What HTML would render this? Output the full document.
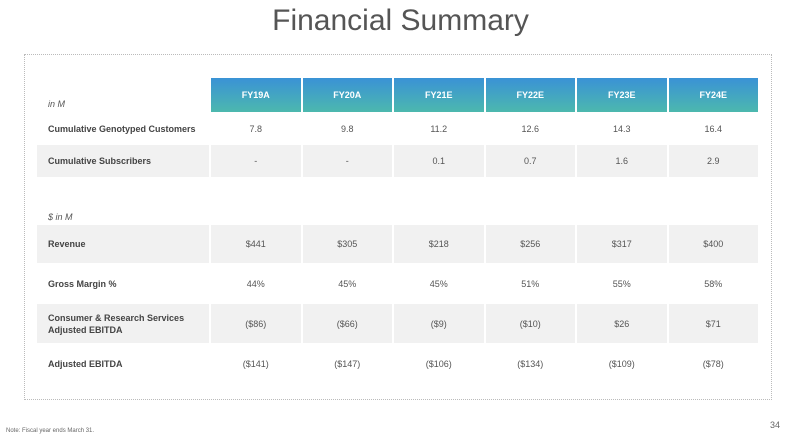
<!DOCTYPE html>
<html><head><meta charset="utf-8"><style>
body{margin:0;width:801px;height:438px;overflow:hidden;background:#fff;font-family:"Liberation Sans",Arial,sans-serif;position:relative;color:#444}
div{position:absolute;box-sizing:border-box}
.t{font-size:30px;color:#555;left:0;width:801px;text-align:center;top:4px}
.hd{top:78px;height:34px;background:linear-gradient(#3a92d6,#4cb8ae);color:#fff;font-size:9px;font-weight:bold;text-align:center;line-height:34px}
.bg{background:#f1f1f1}
.c{font-size:9px;text-align:center;color:#555;display:flex;align-items:center;justify-content:center}
.l{font-size:9px;font-weight:bold;color:#444;display:flex;align-items:center;padding-left:11px;line-height:12px}
.it{font-size:9px;font-style:italic;color:#555}
.dot{border:1.5px dotted #bbb}
</style></head><body>
<div class="t">Financial Summary</div>
<div class="dot" style="left:24px;top:54px;width:748px;height:346px"></div>
<div class="it" style="left:48px;top:99px">in M</div>
<div class="it" style="left:48px;top:212px">$ in M</div>
<div id="tbl"></div>
<div style="left:6px;top:428px;font-size:6px;color:#666">Note: Fiscal year ends March 31.</div>
<div style="left:770px;top:420px;font-size:9px;color:#666">34</div>
<script>
const years=["FY19A","FY20A","FY21E","FY22E","FY23E","FY24E"];
const labels=["Cumulative Genotyped Customers","Cumulative Subscribers","Revenue","Gross Margin %","Consumer & Research Services<br>Adjusted EBITDA","Adjusted EBITDA"];
const rowNames=["genotyped-customers","subscribers","revenue","gross-margin","cr-adjusted-ebitda","adjusted-ebitda"];
const genotyped=["7.8","9.8","11.2","12.6","14.3","16.4"];
const subscribers=["-","-","0.1","0.7","1.6","2.9"];
const revenue=["$441","$305","$218","$256","$317","$400"];
const grossMargin=["44%","45%","45%","51%","55%","58%"];
const crEbitda=["($86)","($66)","($9)","($10)","$26","$71"];
const adjEbitda=["($141)","($147)","($106)","($134)","($109)","($78)"];
const rows=[genotyped,subscribers,revenue,grossMargin,crEbitda,adjEbitda];
const rowTop=[113,145,225,264,304,344], rowH=[32,32,38,39,39,39], shaded=[false,true,true,false,true,false];
const x0=211,cw=91.5,lx=37;
const t=document.getElementById('tbl');
years.forEach((y,i)=>{const d=document.createElement('div');d.className='hd';
d.style.left=(x0+i*cw)+'px';d.style.width=(cw-2)+'px';d.textContent=y;


t.appendChild(d);});
rows.forEach((r,ri)=>{
 const l=document.createElement('div');l.className='l'+(shaded[ri]?' bg':'');
 l.style.left=lx+'px';l.style.top=rowTop[ri]+'px';l.style.height=rowH[ri]+'px';l.style.width=(x0-lx-2)+'px';
 l.innerHTML=labels[ri];
 
 
 t.appendChild(l);
 r.forEach((v,ci)=>{const c=document.createElement('div');c.className='c'+(shaded[ri]?' bg':'');
 c.style.left=(x0+ci*cw)+'px';c.style.width=(cw-2)+'px';c.style.top=rowTop[ri]+'px';c.style.height=rowH[ri]+'px';
 c.textContent=v;
 
 
 t.appendChild(c);});
});
</script>
</body></html>
